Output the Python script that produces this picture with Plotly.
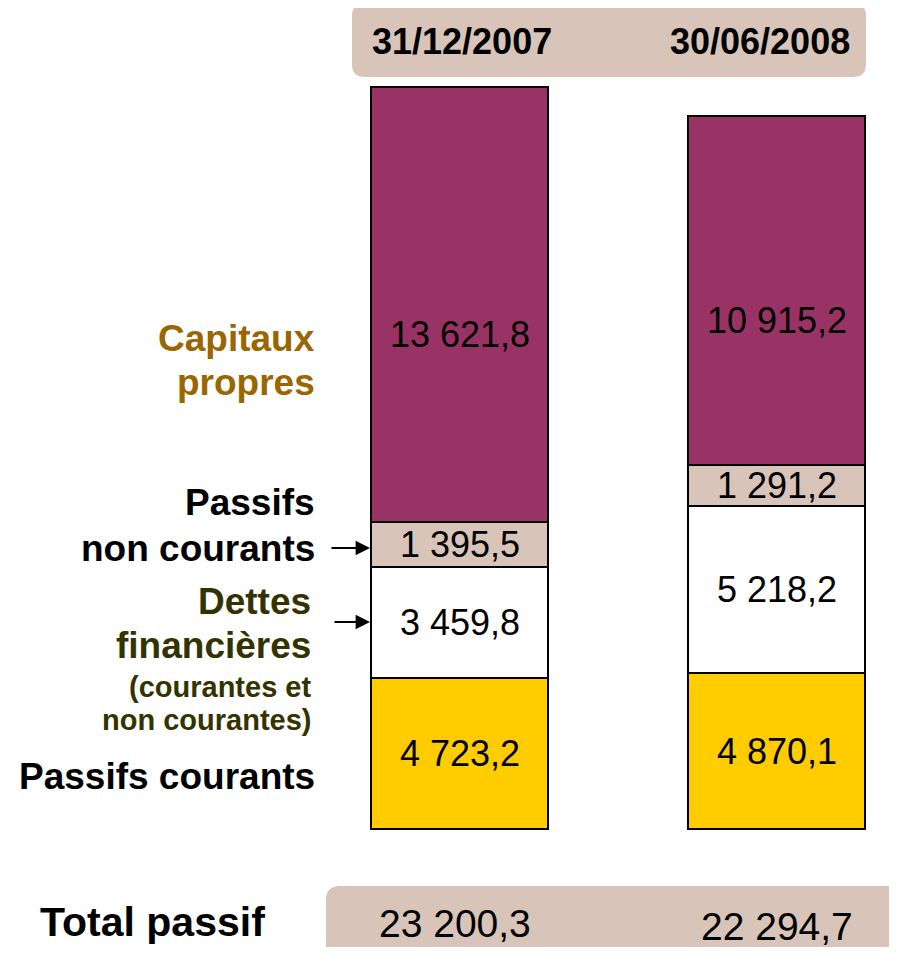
import plotly.graph_objects as go

# ---- data ----
dates = ["31/12/2007", "30/06/2008"]
series_names = ["Passifs courants", "Dettes financières", "Passifs non courants", "Capitaux propres"]
passifs_courants = [4723.2, 4870.1]
dettes_financieres = [3459.8, 5218.2]
passifs_non_courants = [1395.5, 1291.2]
capitaux_propres = [13621.8, 10915.2]
totals = [23200.3, 22294.7]

series = [passifs_courants, dettes_financieres, passifs_non_courants, capitaux_propres]
colors = ["#FFCC00", "#FFFFFF", "#D8C4B8", "#993366"]
text_shift = [0, 0, 0, -30]

OFF = 8  # page body margin
W, H = 897 - 2 * OFF, 955 - 2 * OFF
FONT = "Liberation Sans, Arial, sans-serif"


def fr(v):
    return f"{v:,.1f}".replace(",", " ").replace(".", ",")


def px(x):
    return (x - OFF) / W


def py(y):
    return 1 - (y - OFF) / H


fig = go.Figure()
xs = [0, 1]
for name, vals, col in zip(series_names, series, colors):
    fig.add_trace(go.Bar(
        x=xs, y=vals, name=name, width=0.558,
        marker=dict(color=col, line=dict(color="black", width=2)),
        hoverinfo="skip",
    ))

annotations = []
# values inside bars
for i in range(2):
    base = 0.0
    for vals, ys in zip(series, text_shift):
        v = vals[i]
        annotations.append(dict(
            x=xs[i], y=base + v / 2, xref="x", yref="y", text=fr(v),
            xanchor="center", yanchor="middle", yshift=ys,
            showarrow=False, font=dict(family=FONT, size=36, color="black"),
        ))
        base += v

# header dates
for i, d in enumerate(dates):
    annotations.append(dict(
        x=[px(462), px(760)][i], y=py(42), xref="paper", yref="paper",
        text=f"<b>{d}</b>", showarrow=False, xanchor="center", yanchor="middle",
        font=dict(family=FONT, size=36, color="black"),
    ))

# left labels
def lab(text, x, y, size, color):
    annotations.append(dict(
        x=px(x), y=py(y), xref="paper", yref="paper", text=f"<b>{text}</b>",
        showarrow=False, xanchor="right", yanchor="middle",
        font=dict(family=FONT, size=size, color=color),
    ))

lab("Capitaux", 317, 339, 37, "#996600")
lab("propres", 317, 383, 37, "#996600")
lab("Passifs", 317, 503, 37, "black")
lab("non courants", 317, 548, 37, "black")
lab("Dettes", 313, 601, 37, "#333300")
lab("financières", 313, 645, 37, "#333300")
lab("(courantes et", 313, 687, 29, "#333300")
lab("non courantes)", 313, 720, 29, "#333300")
lab("Passifs courants", 317, 776, 37, "black")

# arrows
for ay_px, start in [(548, 330), (622, 333)]:
    annotations.append(dict(
        x=px(370), y=py(ay_px), xref="paper", yref="paper",
        ax=start - 370, ay=0, axref="pixel", ayref="pixel",
        text="", showarrow=True, arrowhead=2, arrowsize=1.6, arrowwidth=1.8,
        arrowcolor="black",
    ))

# totals
annotations.append(dict(
    x=px(267), y=py(922), xref="paper", yref="paper", text="<b>Total passif</b>",
    showarrow=False, xanchor="right", yanchor="middle",
    font=dict(family=FONT, size=41, color="black"),
))
for i, t in enumerate(totals):
    annotations.append(dict(
        x=[px(455), px(777)][i], y=py([923, 926][i]), xref="paper", yref="paper",
        text=fr(t), showarrow=False, xanchor="center", yanchor="middle",
        font=dict(family=FONT, size=39, color="black"),
    ))


def rounded(x0, y0, x1, y1, r):
    rx, ry = r / W, r / H
    X0, X1 = px(x0), px(x1)
    Y0, Y1 = py(y0), py(y1)  # Y0 top, Y1 bottom
    return (f"M {X0+rx},{Y0} L {X1-rx},{Y0} Q {X1},{Y0} {X1},{Y0-ry} "
            f"L {X1},{Y1+ry} Q {X1},{Y1} {X1-rx},{Y1} L {X0+rx},{Y1} "
            f"Q {X0},{Y1} {X0},{Y1+ry} L {X0},{Y0-ry} Q {X0},{Y0} {X0+rx},{Y0} Z")


shapes = [
    dict(type="path", path=rounded(352, 3, 866, 77, 13), xref="paper", yref="paper",
         fillcolor="#D8C4B8", line=dict(width=0), layer="below"),
    dict(type="path", path=rounded(326, 886, 920, 975, 14), xref="paper", yref="paper",
         fillcolor="#D8C4B8", line=dict(width=0), layer="below"),
]

k = 0.032  # px per unit
c1 = 459.5 - OFF
bottom = 829 - OFF
fig.update_layout(
    width=W, height=H, margin=dict(l=0, r=0, t=0, b=0),
    paper_bgcolor="white", plot_bgcolor="rgba(0,0,0,0)",
    barmode="stack", showlegend=False,
    xaxis=dict(range=[-c1 / 317, (W - c1) / 317], visible=False, fixedrange=True),
    yaxis=dict(range=[-(H - bottom) / k, bottom / k], visible=False, fixedrange=True),
    annotations=annotations, shapes=shapes,
)

fig.write_html("out.html")
